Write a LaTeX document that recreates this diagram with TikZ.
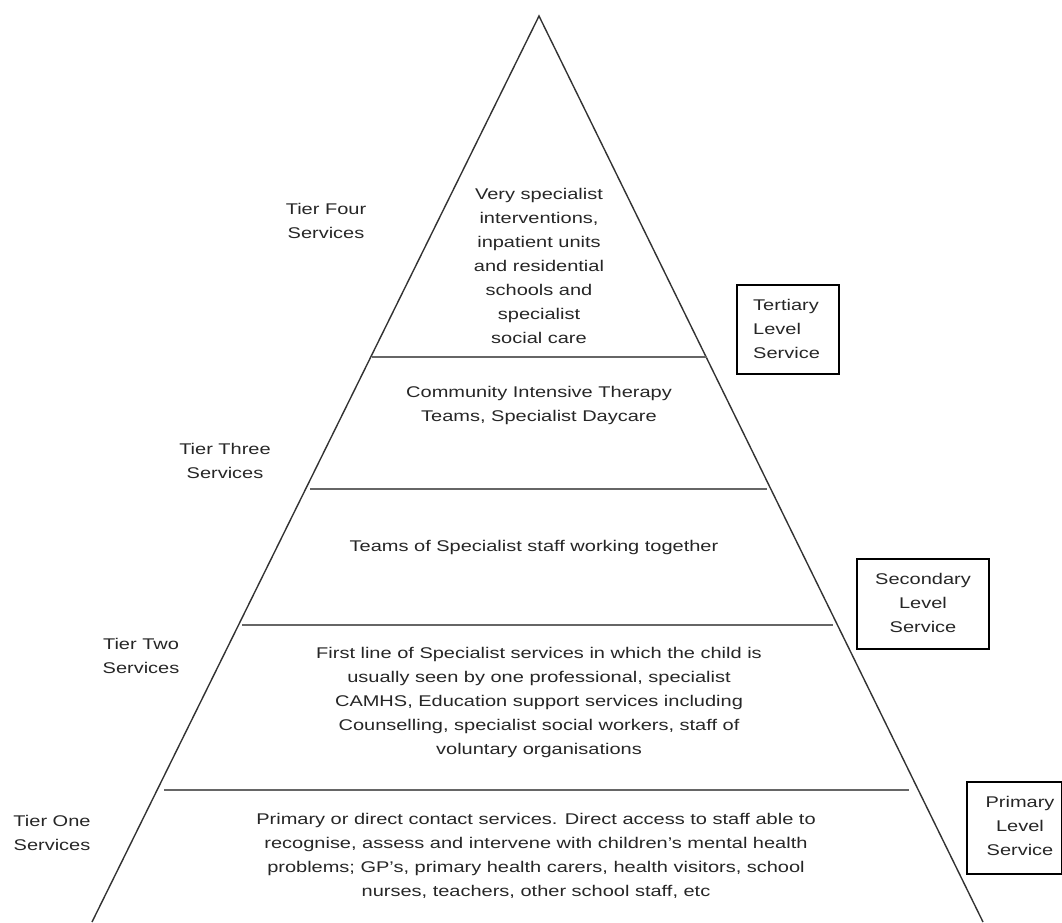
\documentclass[tikz,border=0pt]{standalone}
\usepackage{fontspec}
\setmainfont[FakeStretch=1.29]{Liberation Sans}
\begin{document}
\begin{tikzpicture}[x=1pt,y=-1pt,
  txt/.style={font=\fontsize{15.5}{24}\selectfont, text=black!85, align=center, inner sep=0pt},
  side/.style={draw=black!80, line width=1.4pt},
  tierline/.style={draw=black!60, line width=2pt},
  levelbox/.style={draw=black, line width=1.3pt}]
\useasboundingbox (0,0) rectangle (1062,922);
% pyramid
\coordinate (apex) at (539,16);
\coordinate (bl) at (92,922);
\coordinate (br) at (983,922);
\draw[side] (bl) -- (apex) -- (br);
% tier lines
\coordinate (l1a) at (372,357); \coordinate (l1b) at (707,357);
\coordinate (l2a) at (310,489); \coordinate (l2b) at (767,489);
\coordinate (l3a) at (242,625); \coordinate (l3b) at (833,625);
\coordinate (l4a) at (164,790); \coordinate (l4b) at (909,790);
\draw[tierline] (l1a) -- (l1b);
\draw[tierline] (l2a) -- (l2b);
\draw[tierline] (l3a) -- (l3b);
\draw[tierline] (l4a) -- (l4b);
% tier labels
\node[txt] (t4) at (326,221) {Tier Four\\Services};
\node[txt] (t3) at (225,461) {Tier Three\\Services};
\node[txt] (t2) at (141,656) {Tier Two\\Services};
\node[txt] (t1) at (52,833) {Tier One\\Services};
% block texts
\node[txt] (b4) at (539,266) {Very specialist\\interventions,\\inpatient units\\and residential\\schools and\\specialist\\social care};
\node[txt] (b3) at (539,405) {Community Intensive Therapy\\Teams, Specialist Daycare};
\node[txt] (b25) at (534,547) {Teams of Specialist staff working together};
\node[txt] (b2) at (539,702) {First line of Specialist services in which the child is\\usually seen by one professional, specialist\\CAMHS, Education support services including\\Counselling, specialist social workers, staff of\\voluntary organisations};
\node[txt] (b1) at (536,856) {Primary or direct contact services. Direct access to staff able to\\recognise, assess and intervene with children's mental health\\problems; GP's, primary health carers, health visitors, school\\nurses, teachers, other school staff, etc};
% level boxes
\draw[levelbox] (737,285) rectangle (839,374);
\node[txt, align=left, anchor=west] (tert) at (753,329) {Tertiary\\Level\\Service};
\draw[levelbox] (857,559) rectangle (989,649);
\node[txt] (sec) at (923,603) {Secondary\\Level\\Service};
\draw[levelbox] (967,782) rectangle (1061.3,874);
\node[txt] (prim) at (1020,826) {Primary\\Level\\Service};
\end{tikzpicture}
\end{document}
